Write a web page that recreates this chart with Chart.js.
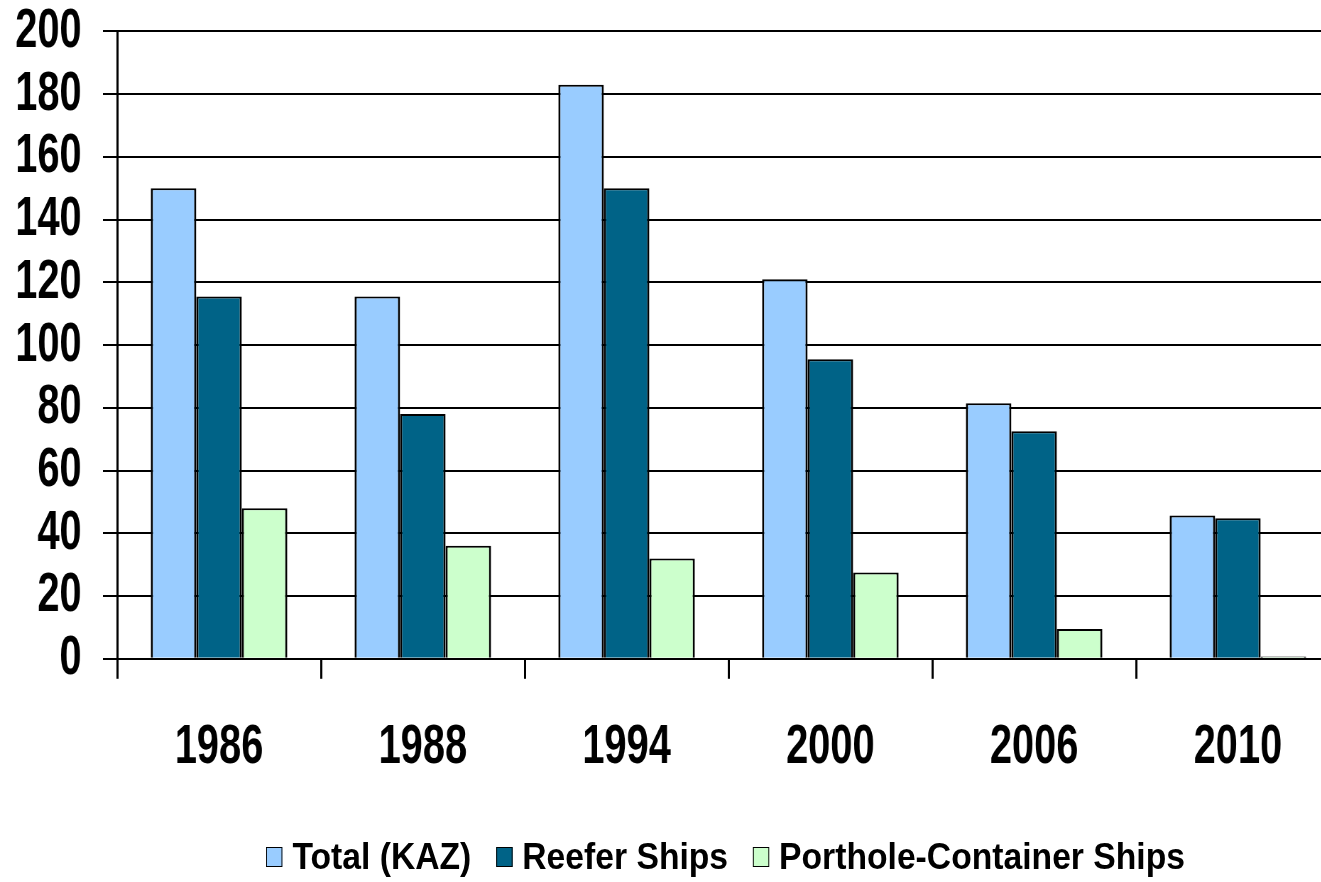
<!DOCTYPE html>
<html>
<head>
<meta charset="utf-8">
<script src="https://cdn.jsdelivr.net/npm/chart.js@4/dist/chart.umd.min.js"></script>
<style>
  html, body { margin: 0; padding: 0; background: #fff; overflow: hidden; width: 1321px; height: 882px; position: relative; }
  /* reference text is condensed; draw wide and squeeze horizontally */
  #wrap { width: 2040px; height: 882px; transform: scaleX(0.71); transform-origin: 0 0; }
  #legend {
    position: absolute; left: 266px; top: 838px; height: 37px;
    display: flex; align-items: center; white-space: nowrap;
    font: bold 37px/37px 'Liberation Sans', Arial, sans-serif; color: #000;
    transform: scaleX(0.91); transform-origin: 0 0;
  }
  #legend .item { display: flex; align-items: center; margin-right: 27px; }
  #legend .box { width: 16px; height: 18px; border: 1.5px solid #000; margin-right: 11px; }
</style>
</head>
<body>
<div id="wrap"><canvas id="graph"></canvas></div>
<div id="legend"></div>
<script>
"use strict";
const YEARS = ["1986", "1988", "1994", "2000", "2006", "2010"];
const TOTAL_KAZ = [150, 115.5, 183, 121, 81.5, 45.7];
const REEFER = [115.5, 78, 150, 95.5, 72.5, 44.8];
const PORTHOLE = [48, 36, 32, 27.5, 9.5, 0.7];

const FONT = "'Liberation Sans', Arial, sans-serif";

// legend as html so its text can be squeezed less than the axes
const htmlLegend = {
    id: "htmlLegend",
    afterUpdate(chart) {
        const box = document.getElementById("legend");
        box.innerHTML = "";
        const items = chart.options.plugins.legend.labels.generateLabels(chart);
        items.forEach(function (item) {
            const el = document.createElement("span");
            el.className = "item";
            const sw = document.createElement("span");
            sw.className = "box";
            sw.style.background = item.fillStyle;
            el.appendChild(sw);
            el.appendChild(document.createTextNode(item.text));
            box.appendChild(el);
        });
    },
};

function drawGraph() {
    const data = {
        labels: YEARS,
        datasets: [
            { label: "Total (KAZ)", data: TOTAL_KAZ, backgroundColor: "#99ccff" },
            { label: "Reefer Ships", data: REEFER, backgroundColor: "#006387" },
            { label: "Porthole-Container Ships", data: PORTHOLE, backgroundColor: "#ccffcc" },
        ].map(function (d) {
            d.borderColor = "#000";
            d.borderWidth = { top: 2, bottom: 0, left: 3, right: 3 };
            d.categoryPercentage = 0.67;
            d.barPercentage = 1;
            return d;
        }),
    };
    const config = {
        type: "bar",
        data,
        plugins: [htmlLegend],
        options: {
            animation: false,
            responsive: true,
            maintainAspectRatio: false,
            layout: { padding: { left: 20, right: 153, top: 0, bottom: 66 } },
            plugins: {
                tooltip: { enabled: false },
                legend: { display: false },
            },
            scales: {
                x: {
                    grid: {
                        offset: true,
                        drawOnChartArea: false,
                        color: "#000",
                        lineWidth: 3,
                        tickLength: 20,
                    },
                    border: { color: "#000", width: 2 },
                    ticks: {
                        color: "#000",
                        padding: 35,
                        autoSkip: false,
                        maxRotation: 0,
                        font: { family: FONT, size: 56, weight: "bold" },
                    },
                },
                y: {
                    min: 0,
                    max: 200,
                    afterFit: function (scale) {
                        scale.width = 145;
                    },
                    ticks: {
                        stepSize: 20,
                        autoSkip: false,
                        color: "#000",
                        padding: 30,
                        font: { family: FONT, size: 56, weight: "bold", lineHeight: 0.05 },
                    },
                    grid: { color: "#000", lineWidth: 2, tickLength: 20 },
                    border: { color: "#000", width: 3 },
                },
            },
        },
    };
    new Chart(document.getElementById("graph"), config);
}
drawGraph();
</script>
</body>
</html>
